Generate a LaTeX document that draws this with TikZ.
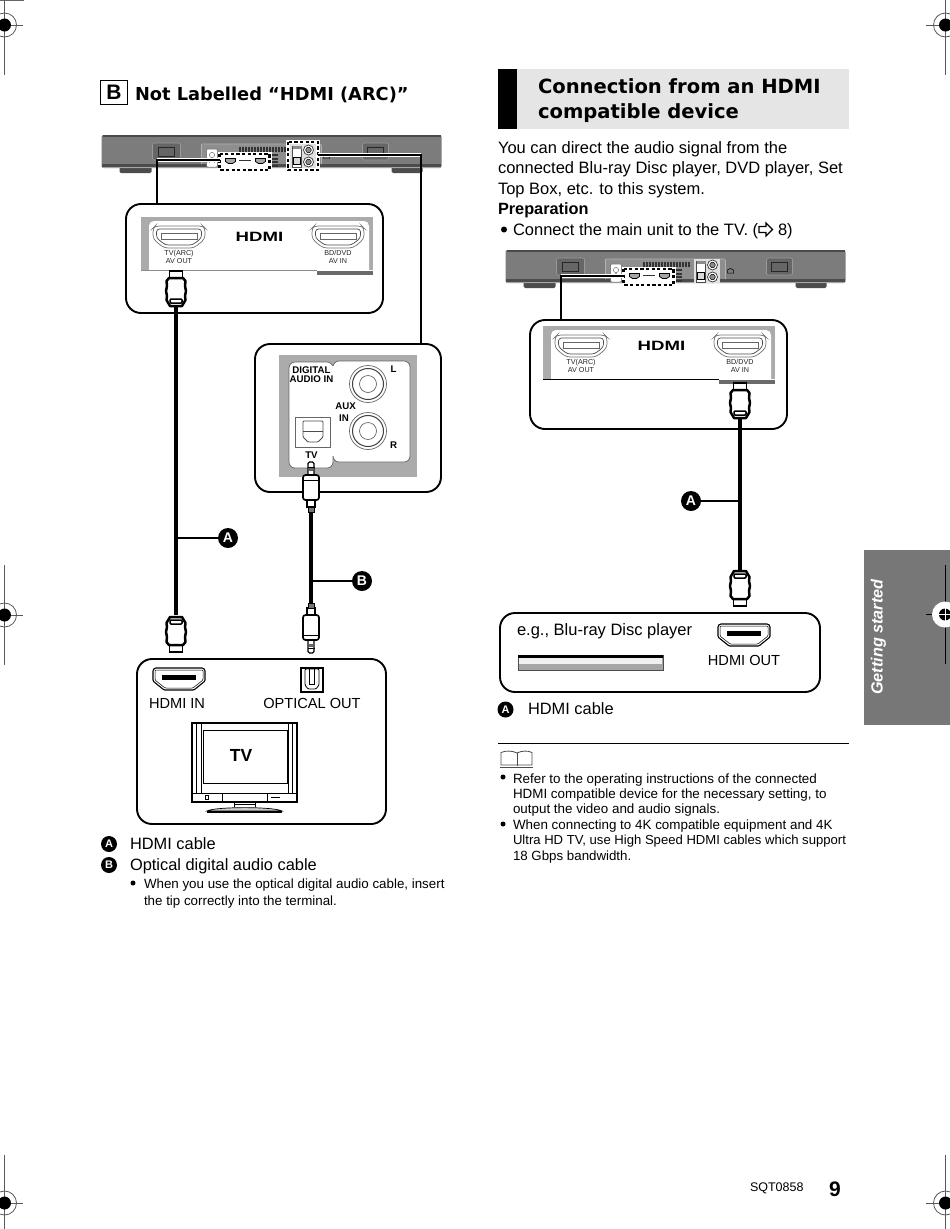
\documentclass[tikz,border=0pt]{standalone}
\usepackage{fontspec}
\usepackage{graphicx}
\setmainfont{Liberation Sans}
\newfontfamily\titlefont{DejaVu Sans}
\newcommand\fs[1]{\fontsize{#1}{#1}\selectfont}
\definecolor{tabgray}{HTML}{777777}
\definecolor{bargray}{HTML}{7C7C7C}
\definecolor{bardark}{HTML}{4A4A4A}
\definecolor{recess}{HTML}{8E8E8E}
\definecolor{panelgray}{HTML}{ABABAB}
\definecolor{darkpatch}{HTML}{6A6A6A}
\tikzset{
  txt/.style={anchor=base west,inner sep=0pt,outer sep=0pt,text=black},
  ctxt/.style={anchor=base,inner sep=0pt,outer sep=0pt,align=center,text=black},
  panel/.style={draw=black,line width=1.9pt,rounded corners=15pt,fill=white,inner sep=0pt,minimum width=#1},
  badge/.style={circle,fill=black,text=white,inner sep=0pt,minimum size=#1,font=\bfseries\fs{14}},
  smallbadge/.style={circle,fill=black,text=white,inner sep=0pt,minimum size=16pt,font=\bfseries\fs{11}},
  cable/.style={line width=#1,draw=black},
  leader/.style={line width=2pt,draw=black},
  wire/.style={line width=1.6pt,draw=black},
  halo/.style={line width=4pt,draw=white},
  dashbox/.style={draw=black,line width=2.2pt,dash pattern=on 3.2pt off 2.4pt},
  reg/.style={line width=0.6pt,draw=black!65},
}
\newcommand\RegMark[6]{%
  \draw[reg] (#3,#2) -- (#4,#2) (#1,#5) -- (#1,#6);
  \draw[reg,line width=.8pt] (#1,#2) circle (12);
  \fill[black] (#1,#2) circle (6.5);
}
\newcommand\SoundBar[2]{%
\begin{scope}[shift={(#1,#2)}]
  \fill[black!70,rounded corners=1.5pt] (18,28) rectangle (50,38);
  \fill[black!70,rounded corners=1.5pt] (290,28) rectangle (321,38);
  \fill[bargray,rounded corners=2pt] (0,0) rectangle (340,33);
  \fill[bardark] (1,0) rectangle (339,2.2);
  \fill[black!70] (0.5,29) rectangle (339.5,33);
  \fill[black!35] (0.5,31.5) rectangle (339.5,33);
  \draw[black!40,fill=black!60,line width=.6pt,rounded corners=2pt] (51,8) rectangle (79,25);
  \draw[black!85,fill=black!60,line width=.6pt] (57,12) rectangle (73,21);
  \draw[black!40,fill=black!60,line width=.6pt,rounded corners=2pt] (261,8) rectangle (287,25);
  \draw[black!85,fill=black!60,line width=.6pt] (266,12) rectangle (282,21);
  \draw[black!30,fill=recess,line width=.7pt,rounded corners=2pt] (100,9) -- (220,9) -- (220,29) (100,29) -- (100,9);
  \fill[recess] (100.5,9.5) rectangle (219.5,29);
  \foreach \i in {0,...,15}{\fill[black!80] (137+3*\i,12) rectangle +(2,5);}
  \foreach \i in {0,...,3}{\fill[black!80] (170,19+3.5*\i) rectangle +(6,2);}
  \draw[black!60,fill=white,line width=.5pt,rounded corners=1pt] (105,14) rectangle (116,32);
  \draw[black!70] (110.5,20) circle (2.6) (110.5,23) -- (108,28) (110.5,23) -- (113,28);
  \draw[black,line width=.5pt] (222,23) -- (222,20) -- (225,18.5) -- (228,20) -- (228,23) -- cycle;
\end{scope}}
\newcommand\HdmiZone[2]{%
\begin{scope}[shift={(#1,#2)}]
  \fill[white] (116,17) rectangle (170,37);
  \draw[dashbox,fill=white] (118,19) rectangle (168,35);
  \foreach \x in {124,154}{\draw[black,fill=black!35,line width=.7pt] (\x,23.5) -- +(10,0) -- +(10,3) -- +(7,5) -- +(3,5) -- +(0,3) -- cycle;}
  \fill[black!80] (137,24.5) rectangle (149,26);
\end{scope}}
\newcommand\AudioIcons[2]{%
\begin{scope}[shift={(#1,#2)}]
  \fill[black!12] (188,9) rectangle (214,33);
  \draw[black!70,fill=white,line width=.5pt] (191,11) rectangle (200,32);
  \draw[black,fill=black!15,line width=.4pt] (192,22) rectangle (199,29);
  \fill[black!45] (191,11) rectangle (200,14);
  \foreach \y in {15,27}{\draw[black!80,fill=white,line width=.7pt] (207,\y) circle (5); \draw[black,fill=black!45,line width=.5pt] (207,\y) circle (2.8);}
\end{scope}}
\newcommand\SockPath{(2,0) -- (50,0) -- (52,2) -- (52,13) -- (41,22) -- (11,22) -- (0,13) -- (0,2) -- cycle}
\newcommand\PanelSock[2]{%
\begin{scope}[shift={(#1,#2)}]
  \draw[black!55,fill=white,line width=.7pt,rounded corners=4pt] \SockPath;
  \draw[black!70,fill=white,line width=.7pt,rounded corners=3pt] (3.5,3) -- (48.5,3) -- (48.5,12) -- (39.5,19) -- (12.5,19) -- (3.5,12) -- cycle;
  \draw[black!60,fill=white,line width=.6pt] (8,7.5) rectangle (44,13);
\end{scope}}
\newcommand\DevSock[2]{%
\begin{scope}[shift={(#1,#2)}]
  \draw[black,fill=white,line width=1.1pt,rounded corners=1pt] \SockPath;
  \draw[black,line width=.5pt,rounded corners=1pt] (2,2) -- (50,2) -- (50,12) -- (40,20) -- (12,20) -- (2,12) -- cycle;
  \fill[black] (9,7) rectangle (43,12);
\end{scope}}
\newcommand\HdmiInner[3]{%
\begin{scope}[shift={(#1,#2)}]
  \fill[panelgray] (141,217) rectangle (373,275);
  \fill[white,rounded corners=5pt] (149,221) -- (369,221) -- (369,300) -- (149,300) -- cycle;
  \fill[white] (141,270) rectangle (373,276);
  \fill[darkpatch] (317,271) rectangle (373,275);
  \draw[#3,line width=.9pt] (141,270.5) -- (317,270.5);
  \PanelSock{153}{226}
  \PanelSock{312}{226}
  \node[ctxt] (#1hdmilogo) at (259.5,241.7) {\scalebox{1.38}[1]{\bfseries\fs{13.5}HDMI}};
  \node[ctxt,text=black!85] (#1tvarc) at (179,255.5) {\fs{7.2}TV(ARC)};
  \node[ctxt,text=black!85] (#1avout) at (179,263.5) {\fs{7.2}AV OUT};
  \node[ctxt,text=black!85] (#1bddvd) at (338,255.5) {\fs{7.2}BD/DVD};
  \node[ctxt,text=black!85] (#1avin) at (338,263.5) {\fs{7.2}AV IN};
\end{scope}}
\newcommand\HdmiPlug[3]{%
\begin{scope}[shift={(#1,#2)},yscale=#3]
  \draw[black,fill=white,line width=1.9pt] (-6.5,10) -- (-6.5,1) -- (6.5,1) -- (6.5,10);
  \draw[black,fill=white,line width=2.5pt,line join=round] (-7,8) -- (7,8) -- (9.5,11) -- (9,16) -- (10,21) -- (9,26) -- (9.5,30) -- (6,36) -- (-6,36) -- (-9.5,30) -- (-9,26) -- (-10,21) -- (-9,16) -- (-9.5,11) -- cycle;
  \draw[black,fill=white,line width=1.5pt,rounded corners=1pt] (-6,29) rectangle (6,33);
\end{scope}}
\newcommand\OptPlug[3]{%
\begin{scope}[shift={(#1,#2)},yscale=#3]
  \draw[black,fill=white,line width=1.2pt,rounded corners=1.5pt] (-3,14) -- (-3,1) -- (3,1) -- (3,14);
  \draw[black,line width=.8pt] (-3.5,6) -- (3.5,6);
  \fill[black!60] (-2,7) rectangle (2,10);
  \draw[black,fill=white,line width=1.7pt,rounded corners=2.5pt] (-8,14) rectangle (8,39);
  \draw[black,line width=.7pt] (-8,19) -- (8,19);
  \draw[black,fill=white,line width=1.1pt] (-4,39) rectangle (4,46);
  \draw[black,fill=black!55,line width=1pt] (-3,46) rectangle (3,51);
\end{scope}}
\begin{document}
\begin{tikzpicture}[x=1pt,y=-1pt,every node/.style={inner sep=0pt}]
\useasboundingbox (0,0) rectangle (950,1229);
\fill[white] (0,0) rectangle (950,1229);

\fill[tabgray] (864,550) rectangle (950,725);
\node[rotate=90,text=white,inner sep=0pt] (tabtext) at (878.5,637) {\fs{16.2}\bfseries\itshape Getting started};

\fill[black!60] (0,0) rectangle (24,1);
\RegMark{4.5}{25}{0}{23}{0}{75}
\RegMark{945.5}{25}{926}{950}{0}{75}
\RegMark{4.5}{615}{0}{23}{565}{665}
\RegMark{4.5}{1203}{0}{23}{1155}{1229}
\RegMark{945.5}{1203}{926}{950}{1155}{1229}
\draw[black,line width=.6pt] (926,614.5) -- (950,614.5) (945,565) -- (945,664);
\fill[white] (945,614.5) circle (13);
\fill[black] (945,614.5) circle (6);
\draw[white,line width=.4pt] (938,614.5) -- (950,614.5) (945,608) -- (945,621);

\node[draw=black,line width=.9pt,minimum width=27pt,minimum height=24pt] (bbox) at (114,92) {\fs{21}\bfseries B};
\node[txt] (titleL) at (135,100) {\titlefont\fs{17.8}\bfseries Not Labelled “HDMI (ARC)”};

\fill[black!10] (498,69) rectangle (849,129);
\fill[black] (498,69) rectangle (517,129);
\node[txt] (titleR1) at (538,93) {\titlefont\fs{19.55}\bfseries Connection from an HDMI};
\node[txt] (titleR2) at (538,118) {\titlefont\fs{19.55}\bfseries compatible device};

\node[txt] (b1) at (498,153) {\fs{16.5}You can direct the audio signal from the};
\node[txt] (b2) at (498,173.5) {\fs{16.5}connected Blu-ray Disc player, DVD player, Set};
\node[txt] (b3) at (498,194) {\fs{16.5}Top Box, etc. to this system.};
\node[txt] (b4) at (498,214) {\fs{16.3}\bfseries Preparation};
\fill[black] (504,229.5) circle (3);
\node[txt] (b5) at (513,235) {\fs{16.5}Connect the main unit to the TV. (};
\draw[black,line width=1.2pt,fill=white] (759,226.5) -- (759,232.5) -- (766,232.5) -- (766,236) -- (772.5,229.5) -- (766,223) -- (766,226.5) -- cycle;
\node[txt] (b6) at (778,235) {\fs{16.5}8)};

\SoundBar{101.5}{135}
\AudioIcons{101.5}{135}
\HdmiZone{101.5}{135}
\draw[white,line width=4pt] (288,142) rectangle (318,170);
\draw[dashbox] (288,142) rectangle (318,170);

\node[panel=257pt,minimum height=109pt] (pHdmiL) at (254.5,258.5) {};
\HdmiInner{0}{0}{black!45}
\coordinate (barL) at (220,160);
\coordinate (barLbend) at (157,160);
\coordinate (panLtop) at (157,204);
\draw[halo] (barL) -- (barLbend);
\draw[wire] (barL) -- (barLbend) -- (panLtop);

\node[panel=186pt,minimum height=148pt] (pOpt) at (348,418) {};
\fill[panelgray] (279,355) rectangle (417,477);
\draw[black!60,line width=.7pt,fill=white,rounded corners=6pt] (333,361) rectangle (410,462);
\draw[black!60,line width=.7pt,fill=white,rounded corners=6pt] (289,362) rectangle (333,468);
\fill[white] (332,366) rectangle (334.5,456);
\foreach \y in {384,431}{
  \draw[black!60,line width=.7pt] (368,\y) circle (18.5);
  \draw[black!75,line width=1pt] (368,\y) circle (15.5);
  \draw[black!60,line width=.7pt] (368,\y) circle (8.5);
}
\node[ctxt] (digital) at (311.5,373) {\fs{9.7}\bfseries DIGITAL};
\node[ctxt] (audioin) at (311.5,382.5) {\fs{9.7}\bfseries AUDIO IN};
\node[ctxt] (aux) at (345.5,409) {\fs{9.7}\bfseries AUX};
\node[ctxt] (in) at (344,421.5) {\fs{9.7}\bfseries IN};
\node[ctxt] (lL) at (393.5,372) {\fs{9.7}\bfseries L};
\node[ctxt] (lR) at (393.5,448) {\fs{9.7}\bfseries R};
\node[ctxt] (tvlab) at (311.5,458.5) {\fs{9.7}\bfseries TV};
\draw[black!60,line width=.7pt] (295,417) rectangle (330,447);
\draw[black!70,line width=.8pt,rounded corners=1pt] (303,421) -- (323,421) -- (323,437) -- (318,442) -- (308,442) -- (303,437) -- cycle;
\draw[black!70,line width=.7pt] (303,431.5) -- (323,431.5);
\coordinate (barR) at (318,155);
\coordinate (barRbend) at (421,155);
\coordinate (panRtop) at (421,344);
\draw[halo] (barR) -- (barRbend);
\draw[wire] (barR) -- (barRbend) -- (panRtop);

\node[panel=249pt,minimum height=165pt] (pTV) at (261.5,741.5) {};
\DevSock{153}{668}
\draw[black,line width=1.1pt] (301,668) rectangle (323,692);
\draw[black,line width=.8pt,rounded corners=1pt] (305,669) -- (319,669) -- (319,685) -- (316,689) -- (308,689) -- (305,685) -- cycle;
\draw[black,line width=.6pt] (309.5,669) -- (309.5,684) -- (314.5,684) -- (314.5,669);
\node[ctxt] (hdmiin) at (177,708) {\fs{14.6}HDMI IN};
\node[ctxt] (optout) at (312,708) {\fs{14.6}OPTICAL OUT};
\draw[black,line width=1.8pt,fill=white] (192,723) rectangle (297,802);
\draw[black,line width=.5pt] (196,723) -- (196,793) (201,723) -- (201,793) (292,723) -- (292,793) (288.5,723) -- (288.5,793);
\draw[black,line width=.9pt,fill=white] (203,730) rectangle (287,783);
\draw[black,line width=.7pt] (192,793) -- (297,793) (222,793) -- (222,802) (267,793) -- (267,802);
\draw[black,line width=.5pt] (205,795) rectangle (208,799);
\draw[black,line width=.7pt] (271,797) -- (280,797);
\draw[black,line width=1pt] (234,802) -- (234,807) (255,802) -- (255,807);
\draw[black,line width=.8pt] (234,804.5) -- (255,804.5);
\draw[black,line width=.7pt,fill=black!20] (207,811) .. controls (215,806.5) and (274,806.5) .. (282,811) -- cycle;
\fill[black] (207,810.5) rectangle (282,812.5);
\node[ctxt] (tvtext) at (241,761) {\fs{17.5}\bfseries TV};

\coordinate (hA1) at (176,307);
\coordinate (hA2) at (176,615);
\coordinate (oB1) at (311,512);
\coordinate (oB2) at (311,603);
\draw[cable=4pt] (hA1) -- (hA2);
\draw[cable=3.6pt] (oB1) -- (oB2);
\HdmiPlug{176}{270}{1}
\HdmiPlug{176}{653}{-1}
\OptPlug{311}{461}{1}
\OptPlug{311}{654}{-1}
\node[badge=20pt] (badA) at (228,538) {A};
\node[badge=20pt] (badB) at (362,581) {B};
\draw[leader] (badA) -- (badA -| hA1);
\draw[leader] (badB) -- (badB -| oB1);

\node[smallbadge] (legA) at (109,844) {A};
\node[txt] (legAt) at (130,849) {\fs{16.4}HDMI cable};
\node[smallbadge] (legB) at (109,865) {B};
\node[txt] (legBt) at (130,870) {\fs{16.4}Optical digital audio cable};
\fill[black] (133,883) circle (2.5);
\node[txt] (n1) at (144,888) {\fs{13.35}When you use the optical digital audio cable, insert};
\node[txt] (n2) at (144,905.5) {\fs{13.35}the tip correctly into the terminal.};

\SoundBar{505.5}{250}
\AudioIcons{505.5}{250}
\HdmiZone{505.5}{250}

\node[panel=257pt,minimum height=109pt] (pHdmiR) at (658.5,374.5) {};
\HdmiInner{402}{109}{black}
\coordinate (bar2) at (624,276);
\coordinate (bar2bend) at (561,276);
\coordinate (pan2top) at (561,320);
\draw[halo] (bar2) -- (bar2bend);
\draw[wire] (bar2) -- (bar2bend) -- (pan2top);

\coordinate (hC1) at (740,419);
\coordinate (hC2) at (740,570);
\draw[cable=4pt] (hC1) -- (hC2);
\HdmiPlug{740}{382}{1}
\HdmiPlug{740}{607}{-1}
\node[badge=20pt] (badC) at (691,501) {A};
\draw[leader] (badC) -- (badC -| hC1);

\node[panel=320pt,minimum height=79pt] (pPlayer) at (660,652.5) {};
\node[txt] (eg) at (517,635) {\fs{16.5}e.g., Blu-ray Disc player};
\draw[black!70,line width=.6pt,fill=black!35] (518,655) rectangle (663,670);
\fill[black] (518,655) rectangle (663,657.5);
\fill[black!6] (519,658) rectangle (662,664);
\DevSock{718}{624}
\node[ctxt] (hdmiout) at (744,665) {\fs{14.6}HDMI OUT};
\node[smallbadge] (legC) at (505.5,709.5) {A};
\node[txt] (legCt) at (528,714.5) {\fs{16.4}HDMI cable};

\draw[black,line width=.9pt] (498,743) -- (849,743);
\draw[black!70,line width=.8pt,fill=white] (501,752.5) .. controls (506,750.5) and (512,750.5) .. (517,753) .. controls (522,750.5) and (528,750.5) .. (532,752.5) -- (532,765) -- (501,765) -- cycle;
\draw[black!70,line width=.8pt] (517,753) -- (517,766);
\draw[black!70,line width=.6pt] (500,767) -- (533,767);
\fill[black] (503,777) circle (2.5);
\node[txt] (r1) at (513,783) {\fs{13.4}Refer to the operating instructions of the connected};
\node[txt] (r2) at (513,798.3) {\fs{13.4}HDMI compatible device for the necessary setting, to};
\node[txt] (r3) at (513,813.6) {\fs{13.4}output the video and audio signals.};
\fill[black] (503,824) circle (2.5);
\node[txt] (r4) at (513,829.5) {\fs{13.4}When connecting to 4K compatible equipment and 4K};
\node[txt] (r5) at (513,844.8) {\fs{13.1}Ultra HD TV, use High Speed HDMI cables which support};
\node[txt] (r6) at (513,860) {\fs{13.3}18 Gbps bandwidth.};

\node[txt] (sqt) at (750,1191) {\fs{12.5}SQT0858};
\node[txt] (pg) at (829,1196) {\fs{21}\bfseries 9};
\end{tikzpicture}
\end{document}
